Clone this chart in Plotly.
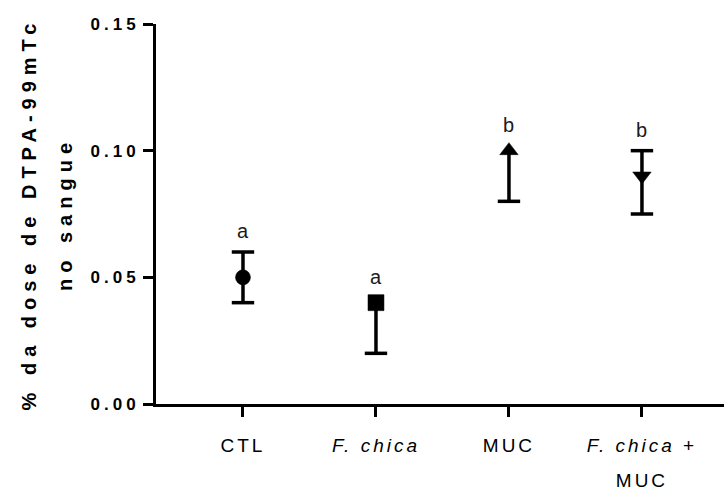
import plotly.graph_objects as go

categories = ["CTL", "F. chica", "MUC", "F. chica + MUC"]
tick_labels = ["CTL", "<i>F. chica</i>", "MUC", "<i>F. chica</i> +<br>MUC"]
means = [0.05, 0.04, 0.10, 0.09]
err_plus = [0.01, 0.0, 0.0, 0.01]
err_minus = [0.01, 0.02, 0.02, 0.015]
symbols = ["circle", "square", "triangle-up", "triangle-down"]
marker_sizes = [15, 16, 16, 16]
letters = ["a", "a", "b", "b"]
y_ticks = [0.0, 0.05, 0.10, 0.15]

FONT = "Liberation Sans, Arial, sans-serif"

fig = go.Figure()

# stems of the error bars (markers of this trace are invisible)
fig.add_trace(go.Scatter(
    x=categories, y=means, mode="markers",
    marker=dict(size=1, color="rgba(0,0,0,0)"),
    error_y=dict(type="data", symmetric=False, array=err_plus, arrayminus=err_minus,
                 width=0, thickness=3.5, color="black"),
    showlegend=False, hoverinfo="skip",
))

# caps of the error bars (only where an error extends)
cap_x = [c for c, p in zip(categories, err_plus) if p > 0] + \
        [c for c, n in zip(categories, err_minus) if n > 0]
cap_y = [m + p for m, p in zip(means, err_plus) if p > 0] + \
        [m - n for m, n in zip(means, err_minus) if n > 0]
fig.add_trace(go.Scatter(
    x=cap_x, y=cap_y, mode="markers",
    marker=dict(symbol="line-ew", size=16, line=dict(width=3.5, color="black")),
    showlegend=False, hoverinfo="skip",
))

# the group means, drawn on top
fig.add_trace(go.Scatter(
    x=categories, y=means, mode="markers",
    marker=dict(symbol=symbols, size=marker_sizes, color="#000000", opacity=1,
                line=dict(width=0.5, color="#000000")),
    showlegend=False, hoverinfo="skip",
))

for c, m, p, lt in zip(categories, means, err_plus, letters):
    fig.add_annotation(
        x=c, y=m + p, text=lt, showarrow=False, yanchor="bottom",
        yshift=8 if p > 0 else 13,
        font=dict(family=FONT, size=20, color="#1a1a1a"),
    )

fig.update_layout(
    width=724, height=490,
    margin=dict(l=156, r=0, t=24, b=86),
    plot_bgcolor="white", paper_bgcolor="white",
    font=dict(family=FONT, color="black"),
)
fig.update_xaxes(
    type="category", categoryorder="array", categoryarray=categories,
    range=[-0.654, 3.617],
    tickvals=categories, ticktext=tick_labels,
    showline=True, linewidth=3, linecolor="black",
    ticks="outside", ticklen=10, tickwidth=3, tickcolor="black",
    tickfont=dict(family=FONT, size=19, color="black"),
    showgrid=False, zeroline=False, ticklabelstandoff=12,
)
fig.update_yaxes(
    range=[0, 0.15], tickvals=y_ticks, tickformat=".2f",
    showline=True, linewidth=3, linecolor="black",
    ticks="outside", ticklen=10, tickwidth=3, tickcolor="black",
    tickfont=dict(family=FONT, size=17, color="black", weight="bold"),
    showgrid=False, zeroline=False,
    title=dict(text="% da dose de DTPA-99mTc<br>no sangue",
               font=dict(family=FONT, size=20, color="black", weight="bold"),
               standoff=39),
)

js = """
var gd = document.getElementById('{plot_id}');
function fixText(){
  gd.querySelectorAll('g.ytick text').forEach(function(t){ t.setAttribute('letter-spacing','4px'); });
  gd.querySelectorAll('g.xtick text').forEach(function(t){
    t.setAttribute('letter-spacing','3px');
    var ls = t.querySelectorAll('tspan.line');
    for (var i = 1; i < ls.length; i++) { ls[i].setAttribute('dy','1.85em'); }
  });
  gd.querySelectorAll('text.ytitle').forEach(function(t){
    t.setAttribute('letter-spacing','6px');
    var ls = t.querySelectorAll('tspan.line');
    for (var i = 1; i < ls.length; i++) { ls[i].setAttribute('dy','1.8em'); }
  });
}
fixText();
gd.on('plotly_afterplot', fixText);
"""

fig.write_html("out.html", post_script=js)
